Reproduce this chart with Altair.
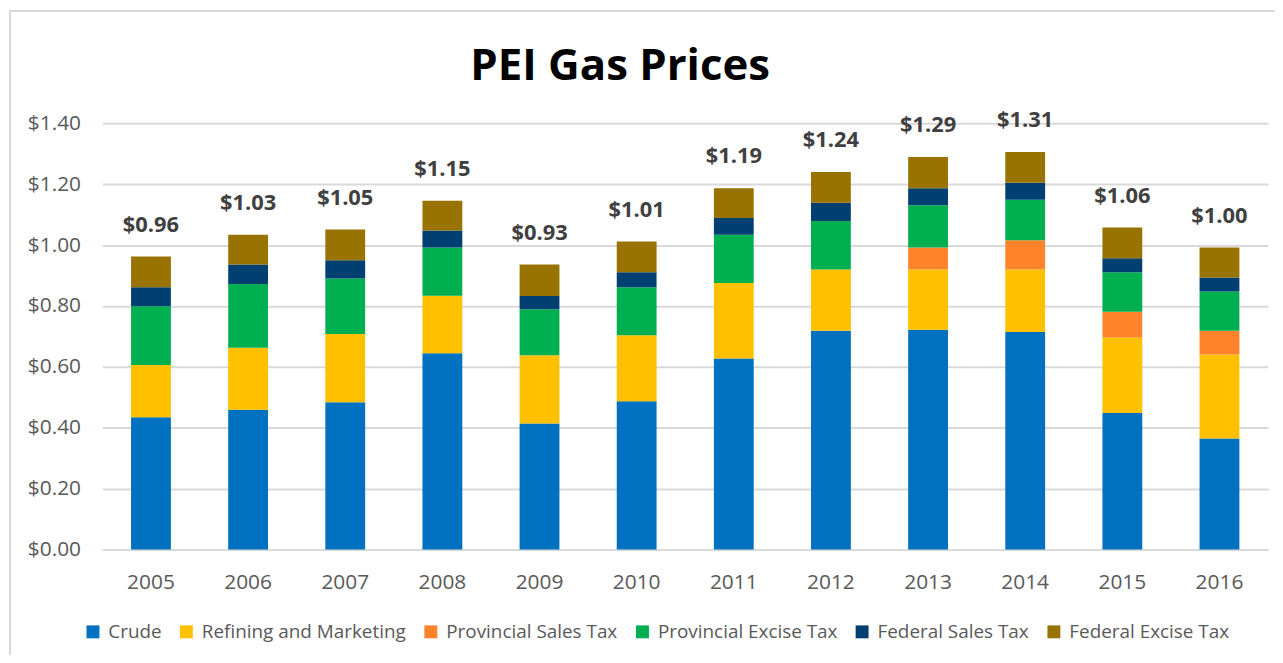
import altair as alt
import pandas as pd

years = ["2005", "2006", "2007", "2008", "2009", "2010", "2011", "2012", "2013", "2014", "2015", "2016"]
series = ["Crude", "Refining and Marketing", "Provincial Sales Tax", "Provincial Excise Tax", "Federal Sales Tax", "Federal Excise Tax"]
colors = ["#0070C0", "#FFC000", "#FF832B", "#00B050", "#003F72", "#997300"]

crude = [0.435, 0.459, 0.484, 0.645, 0.414, 0.487, 0.628, 0.719, 0.722, 0.715, 0.449, 0.365]
refining = [0.171, 0.204, 0.224, 0.189, 0.224, 0.217, 0.248, 0.201, 0.198, 0.205, 0.248, 0.276]
prov_sales = [0.0, 0.0, 0.0, 0.0, 0.0, 0.0, 0.0, 0.0, 0.072, 0.096, 0.084, 0.078]
prov_excise = [0.193, 0.209, 0.182, 0.158, 0.151, 0.158, 0.158, 0.159, 0.139, 0.133, 0.130, 0.129]
fed_sales = [0.063, 0.064, 0.060, 0.056, 0.044, 0.049, 0.055, 0.060, 0.056, 0.056, 0.046, 0.046]
fed_excise = [0.101, 0.098, 0.101, 0.098, 0.103, 0.101, 0.098, 0.101, 0.102, 0.101, 0.101, 0.098]
totals = [0.96, 1.03, 1.05, 1.15, 0.93, 1.01, 1.19, 1.24, 1.29, 1.31, 1.06, 1.00]
title_text = ["PEI Gas Prices"]

values = [crude, refining, prov_sales, prov_excise, fed_sales, fed_excise]

rows = []
for si, (name, vals) in enumerate(zip(series, values)):
    for y, v in zip(years, vals):
        rows.append({"Year": y, "Component": name, "idx": si, "Price": v})
df = pd.DataFrame(rows)

tot_df = pd.DataFrame({
    "Year": years,
    "Top": [sum(v[i] for v in values) for i in range(len(years))],
    "Total": totals,
})

FONT = "Open Sans"
W, H = 1173, 429

x_enc = alt.X("Year:N", sort=years, title=None,
              scale=alt.Scale(paddingInner=0.59, paddingOuter=0.295),
              axis=alt.Axis(labelAngle=0, labelFontSize=21, labelColor="#595959", labelFont=FONT,
                            labelPadding=22, ticks=False, domainColor="#D9D9D9", domainWidth=2,
                            grid=False))

bars = alt.Chart(df).mark_bar().encode(
    x=x_enc,
    y=alt.Y("Price:Q", stack="zero", title=None,
            scale=alt.Scale(domain=[0, 1.4], nice=False),
            axis=alt.Axis(values=[0, 0.2, 0.4, 0.6, 0.8, 1.0, 1.2, 1.4], format="$.2f",
                          labelFontSize=21, labelColor="#595959", labelFont=FONT,
                          labelPadding=22, ticks=False, domain=False,
                          gridColor="#D9D9D9", gridWidth=2)),
    color=alt.Color("Component:N", sort=series,
                    scale=alt.Scale(domain=series, range=colors),
                    legend=alt.Legend(title=None, orient="none", direction="horizontal",
                                      legendX=-19, legendY=502,
                                      symbolType="square", symbolSize=169, symbolStrokeWidth=0,
                                      labelFontSize=19, labelColor="#595959", labelFont=FONT,
                                      labelOffset=6, columnPadding=15, padding=0, labelLimit=0)),
    order=alt.Order("idx:Q", sort="ascending"),
)

labels = alt.Chart(tot_df).mark_text(
    baseline="bottom", dy=-20, fontSize=22, fontWeight="bold", font=FONT, color="#404040"
).encode(
    x=alt.X("Year:N", sort=years),
    y=alt.Y("Top:Q"),
    text=alt.Text("Total:Q", format="$.2f"),
)

title = alt.Chart(pd.DataFrame({"t": title_text})).mark_text(
    fontSize=44, fontWeight="bold", font=FONT, color="#000000", align="center", baseline="alphabetic"
).encode(
    x=alt.value(521), y=alt.value(-44), text="t:N"
)

frame = alt.Chart(pd.DataFrame({"a": [0]})).mark_rect(
    fill=None, stroke="#D9D9D9", strokeWidth=2
).encode(
    x=alt.value(-93), x2=alt.value(W + 60), y=alt.value(-113), y2=alt.value(H + 200)
)

chart = alt.layer(frame, bars, labels, title).properties(
    width=W, height=H,
    autosize=alt.AutoSizeParams(type="none"),
    padding={"left": 95, "top": 114, "right": 7, "bottom": 104},
).configure_view(stroke=None)

chart.save("out.html", embed_options={"renderer": "svg", "actions": False})
